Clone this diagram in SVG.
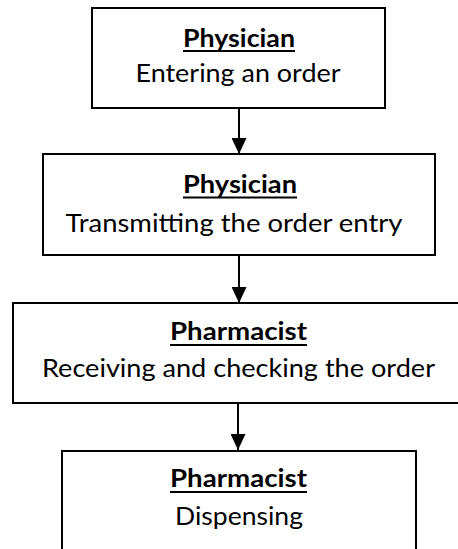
<svg xmlns="http://www.w3.org/2000/svg" width="458" height="549" viewBox="0 0 458 549">
  <style>
    .box { fill: #ffffff; stroke: #000000; stroke-width: 2; }
    .title { font-family: Lato, "Liberation Sans", sans-serif; font-size: 25px; font-weight: bold; fill: #000; text-anchor: middle; }
    .body { font-family: Lato, "Liberation Sans", sans-serif; font-size: 25px; fill: #000; text-anchor: middle; }
    .ul { stroke: #000; stroke-width: 2; }
    .conn { stroke: #000; stroke-width: 2; fill: none; }
  </style>
  <defs>
    <marker id="arrow" markerUnits="userSpaceOnUse" markerWidth="16" markerHeight="15" refX="16" refY="7.5" orient="auto">
      <path d="M0,0 L16,7.5 L0,15 Z" fill="#000"/>
    </marker>
  </defs>
  <rect width="458" height="549" fill="#ffffff"/>
  <g id="node1">
    <rect class="box" x="92" y="8" width="293" height="100"/>
    <text class="title" x="239" y="47" textLength="112" lengthAdjust="spacingAndGlyphs">Physician</text>
    <line class="ul" x1="183" y1="51" x2="295" y2="51"/>
    <text class="body" x="238" y="82" textLength="205" lengthAdjust="spacingAndGlyphs">Entering an order</text>
  </g>
  <g id="node2">
    <rect class="box" x="43" y="154" width="392" height="101"/>
    <text class="title" x="240" y="193" textLength="114" lengthAdjust="spacingAndGlyphs">Physician</text>
    <line class="ul" x1="183" y1="197.5" x2="297" y2="197.5"/>
    <text class="body" x="234" y="232" textLength="337" lengthAdjust="spacingAndGlyphs">Transmitting the order entry</text>
  </g>
  <g id="node3">
    <rect class="box" x="13" y="303" width="460" height="100"/>
    <text class="title" x="238.5" y="340" textLength="137" lengthAdjust="spacingAndGlyphs">Pharmacist</text>
    <line class="ul" x1="170" y1="345" x2="307" y2="345"/>
    <text class="body" x="238.5" y="377" textLength="393" lengthAdjust="spacingAndGlyphs">Receiving and checking the order</text>
  </g>
  <g id="node4">
    <rect class="box" x="62" y="451" width="354" height="110"/>
    <text class="title" x="238.5" y="487" textLength="137" lengthAdjust="spacingAndGlyphs">Pharmacist</text>
    <line class="ul" x1="170" y1="492" x2="307" y2="492"/>
    <text class="body" x="239" y="525" textLength="128" lengthAdjust="spacingAndGlyphs">Dispensing</text>
  </g>
  <g id="connectors">
    <line class="conn" x1="239" y1="108" x2="239" y2="154" marker-end="url(#arrow)"/>
    <line class="conn" x1="239" y1="255" x2="239" y2="303" marker-end="url(#arrow)"/>
    <line class="conn" x1="238" y1="403" x2="238" y2="450" marker-end="url(#arrow)"/>
  </g>
</svg>
